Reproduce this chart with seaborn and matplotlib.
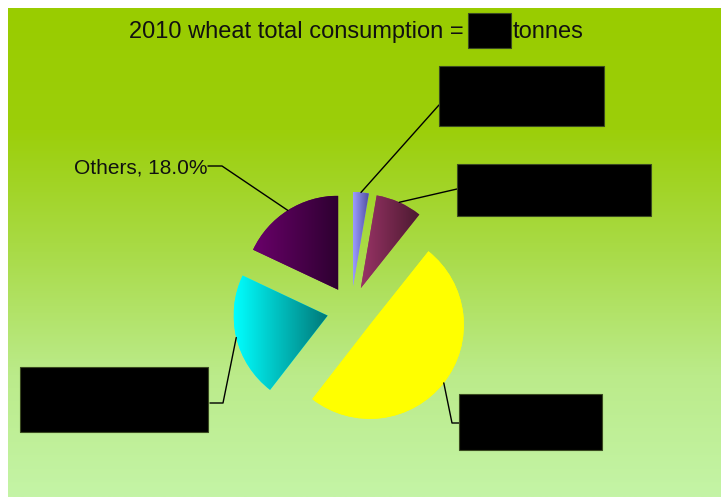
import numpy as np
import matplotlib.pyplot as plt
import seaborn as sns
from matplotlib.patches import Rectangle

# 2010 wheat consumption shares, clockwise from 12 o'clock
names = ['Country A', 'Country B', 'Country C', 'Country D', 'Others']
shares = [2.7, 8.0, 49.8, 21.5, 18.0]

# slice shading: left edge colour -> right edge colour
left_cols = ['#9c9cff', '#993366', '#ffff00', '#00ffff', '#6a006a']
right_cols = ['#5050a0', '#4b1a30', '#ffff00', '#007878', '#2d0030']

# redacted label boxes (pixel coords x0, y0, x1, y1) and leader elbows
boxes = [(439, 66, 604, 126), (457, 164, 651, 216), (459, 394, 602, 450),
         (20, 367, 208, 432), None]
elbows = [[(439, 105)], [(457, 189)], [(452, 423), (459, 423)],
          [(223, 403), (210, 403)], [(222, 166), (208, 166)]]

sns.set_theme(style='white')
plt.rcParams['font.family'] = ['Liberation Sans', 'DejaVu Sans']

W, H = 721, 497
fig = plt.figure(figsize=(W / 100, H / 100), dpi=100)
fig.patch.set_facecolor('white')
ax = fig.add_axes([0, 0, 1, 1])

# green backdrop
bg = sns.blend_palette(['#99cc00', '#9ccf0a', '#a9db48', '#bbeb8a', '#c4f4a6'], as_cmap=True)
ax.imshow(np.linspace(0, 1, 256)[:, None], cmap=bg, extent=(8, W, H, 8),
          aspect='auto', zorder=0)

R = 94
wedges, _ = ax.pie(shares, radius=R, center=(351, 310), startangle=-90,
                   counterclock=True, explode=[24] * len(shares),
                   wedgeprops=dict(linewidth=0), frame=True)

for w, c0, c1 in zip(wedges, left_cols, right_cols):
    w.set_facecolor(c0)
    w.set_zorder(2)
    ext = w.get_path().get_extents(w.get_patch_transform())
    cmap = sns.blend_palette([c0, c1], as_cmap=True)
    im = ax.imshow(np.linspace(0, 1, 256)[None, :], cmap=cmap,
                   extent=(ext.x0, ext.x1, ext.y1, ext.y0), aspect='auto', zorder=3)
    im.set_clip_path(w)

# leader lines from the middle of each slice's arc
for w, box, pts in zip(wedges, boxes, elbows):
    tm = np.deg2rad((w.theta1 + w.theta2) / 2)
    cx, cy = w.center
    ax0 = cx + w.r * np.cos(tm)
    ay0 = cy + w.r * np.sin(tm)
    xs = [ax0] + [p[0] for p in pts]
    ys = [ay0] + [p[1] for p in pts]
    ax.plot(xs, ys, color='black', lw=1.0, zorder=4)
    if box is not None:
        ax.add_patch(Rectangle((box[0], box[1]), box[2] - box[0], box[3] - box[1],
                               facecolor='black', edgecolor='#3a4a20', lw=0.8, zorder=5))

others = f'{names[-1]}, {shares[-1]:.1f}%'
ax.text(207, 173, others, ha='right', va='baseline', fontsize=15, color='#111111', zorder=5)

# title with redacted total
ax.text(464, 38, '2010 wheat total consumption =', ha='right', va='baseline',
        fontsize=17, color='#111111', zorder=5)
ax.add_patch(Rectangle((468, 13), 43, 35, facecolor='black', edgecolor='#3a4a20',
                       lw=0.8, zorder=5))
ax.text(513, 38, 'tonnes', ha='left', va='baseline', fontsize=17, color='#111111', zorder=5)

ax.set_xlim(0, W)
ax.set_ylim(H, 0)
ax.set_aspect('auto')
ax.axis('off')

fig.savefig('out.png', dpi=100, facecolor='white')
